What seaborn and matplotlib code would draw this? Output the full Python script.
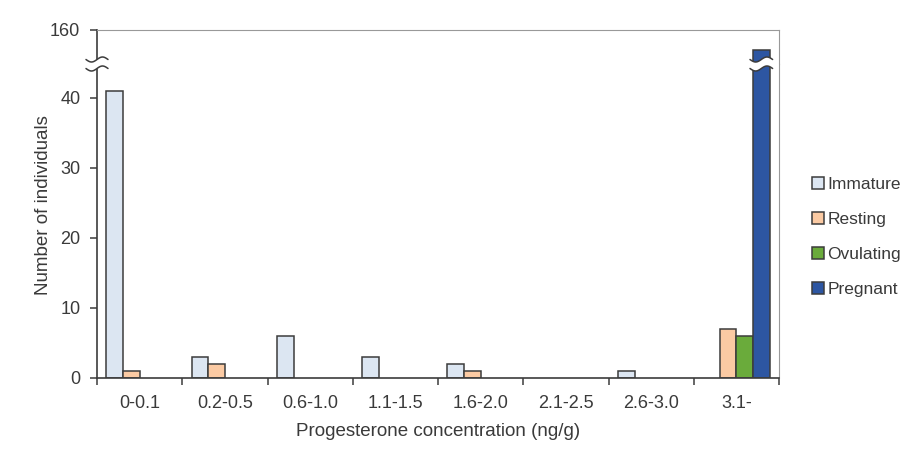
import numpy as np
import pandas as pd
import matplotlib.pyplot as plt
import seaborn as sns
from matplotlib.lines import Line2D
from matplotlib.patches import Polygon, Patch

# -------------------------
# data
# -------------------------
categories = ["0-0.1", "0.2-0.5", "0.6-1.0", "1.1-1.5", "1.6-2.0", "2.1-2.5", "2.6-3.0", "3.1-"]
stages = ["Immature", "Resting", "Ovulating", "Pregnant"]
immature = [41, 3, 6, 3, 2, 0, 1, 0]
resting = [1, 2, 0, 0, 1, 0, 0, 7]
ovulating = [0, 0, 0, 0, 0, 0, 0, 6]
pregnant = [0, 0, 0, 0, 0, 0, 0, 151]
colors = ["#dce6f2", "#fbcaa3", "#6aab3b", "#2d56a2"]

rows = []
for stage, vals in zip(stages, [immature, resting, ovulating, pregnant]):
    for c, v in zip(categories, vals):
        if v > 0:
            rows.append({"conc": c, "stage": stage, "n": v})
df = pd.DataFrame(rows)

sns.set_style("white")
plt.rcParams["font.family"] = ["Liberation Sans", "DejaVu Sans"]
plt.rcParams["text.color"] = "#3a3a3a"
plt.rcParams["axes.labelcolor"] = "#3a3a3a"
plt.rcParams["xtick.color"] = "#3a3a3a"
plt.rcParams["ytick.color"] = "#3a3a3a"

W, H = 913, 457
fig = plt.figure(figsize=(W / 100, H / 100), dpi=100)

# pixel layout
left, right, top, mid, bottom = 97, 779, 30, 64, 378
ax_top = fig.add_axes([left / W, 1 - mid / H, (right - left) / W, (mid - top) / H])
ax_bot = fig.add_axes([left / W, 1 - bottom / H, (right - left) / W, (bottom - mid) / H])

for ax in (ax_top, ax_bot):
    sns.barplot(data=df, x="conc", y="n", hue="stage", order=categories,
                hue_order=stages, palette=colors, width=0.78, dodge=True,
                edgecolor="#3c3c3c", linewidth=1.1, saturation=1, ax=ax, legend=False)
    ax.set_xlim(-0.5, 7.5)
    ax.set_ylabel("")
    ax.set_xlabel("")
    ax.spines["left"].set_color("#3c3c3c")
    ax.spines["left"].set_linewidth(1.2)
    ax.spines["right"].set_color("#999999")
    ax.spines["top"].set_color("#999999")
    ax.spines["bottom"].set_color("#3c3c3c")
    ax.spines["bottom"].set_linewidth(1.2)
    ax.tick_params(axis="y", direction="out", length=5, width=1.1, color="#3c3c3c",
                   labelsize=13, left=True, pad=7)

ax_bot.set_ylim(0, (bottom - mid) / 7.0)
ax_bot.set_yticks([0, 10, 20, 30, 40])
ax_bot.spines["top"].set_visible(False)
ax_bot.set_xticks(range(len(categories)))
ax_bot.set_xticklabels(categories, fontsize=13)
ax_bot.tick_params(axis="x", which="major", length=0, pad=12)
ax_bot.set_xticks(np.arange(-0.5, 8, 1), minor=True)
ax_bot.tick_params(axis="x", which="minor", direction="out", length=5, width=1.1,
                   color="#3c3c3c", bottom=True)
ax_bot.set_xlabel("Progesterone concentration (ng/g)", fontsize=13.5, labelpad=8)

ax_top.set_ylim(145, 160)
ax_top.set_yticks([160])
ax_top.spines["bottom"].set_visible(False)
ax_top.set_xticks([])

fig.text(43 / W, 1 - 205 / H, "Number of individuals", rotation=90,
         ha="center", va="center", fontsize=13.5)


# -------------------------
# break marks
# -------------------------
def draw_break(x0, x1, yc, gap=9, amp=2.5):
    xs = np.linspace(x0, x1, 40)
    wave = amp * np.sin((xs - x0) / (x1 - x0) * 2 * np.pi)
    y_up = yc - gap / 2 + wave
    y_dn = yc + gap / 2 + wave
    poly = np.vstack([np.column_stack([xs, y_up]), np.column_stack([xs[::-1], y_dn[::-1]])])
    poly = np.column_stack([poly[:, 0] / W, 1 - poly[:, 1] / H])
    fig.add_artist(Polygon(poly, closed=True, facecolor="white", edgecolor="none",
                           transform=fig.transFigure, zorder=10))
    for yy in (y_up, y_dn):
        fig.add_artist(Line2D(xs / W, 1 - yy / H, color="#3c3c3c", lw=1.1,
                              transform=fig.transFigure, zorder=11))


draw_break(left - 11, left + 11, mid)

fig.canvas.draw()
preg_bars = [p for p in ax_bot.patches if p.get_height() > 100]
for p in preg_bars:
    bb = p.get_window_extent()
    draw_break(bb.x0 - 3, bb.x1 + 3, mid)

# -------------------------
# legend
# -------------------------
handles = [Patch(facecolor=c, edgecolor="#3c3c3c", linewidth=1.1) for c in colors]
fig.legend(handles, stages, loc="center left", bbox_to_anchor=(805 / W, 1 - 237 / H),
           frameon=False, fontsize=12.5, handlelength=0.7, handleheight=0.7,
           handletextpad=0.2, labelspacing=1.15, borderaxespad=0)

fig.savefig("out.png", dpi=100)
